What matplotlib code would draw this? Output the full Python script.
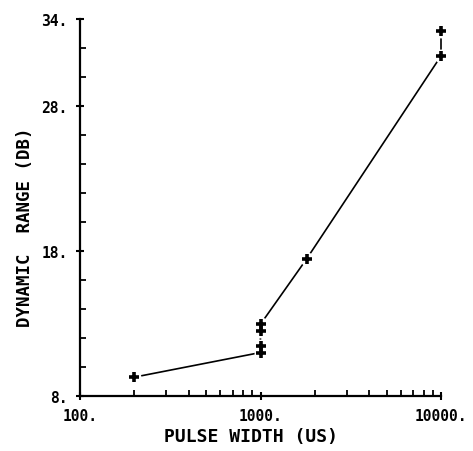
import matplotlib
matplotlib.use("Agg")
import matplotlib.pyplot as plt
from matplotlib.ticker import FixedLocator, LogLocator, MultipleLocator, NullFormatter

# Pulse width (us) vs dynamic range (dB)
pulse_width = [200, 1000, 1000, 1000, 1000, 1800, 10000, 10000]
dynamic_range = [9.3, 11.0, 11.45, 12.45, 12.95, 17.45, 31.45, 33.15]

x_ticks = [100, 1000, 10000]
x_tick_labels = ["100.", "1000.", "10000."]
y_ticks = [8, 18, 28, 34]
y_tick_labels = ["8.", "18.", "28.", "34."]

FONT = "DejaVu Sans Mono"

fig = plt.figure(figsize=(4.73, 4.52), dpi=100)
ax = fig.add_axes([80 / 473, 1 - 397 / 452, (441 - 80) / 473, (397 - 20) / 452])

ax.plot(pulse_width, dynamic_range, color="black", lw=1.2, zorder=1, clip_on=False)
ax.plot(pulse_width, dynamic_range, ls="none", marker="o", ms=10,
        mfc="white", mec="none", zorder=2, clip_on=False)
ax.plot(pulse_width, dynamic_range, ls="none", marker="+", ms=6.5,
        mew=2.6, color="black", zorder=3, clip_on=False)

ax.set_xscale("log")
ax.set_xlim(100, 10000)
ax.set_ylim(8, 34)

ax.set_xticks(x_ticks)
ax.set_xticklabels(x_tick_labels)
ax.xaxis.set_minor_locator(LogLocator(base=10, subs=range(2, 10)))
ax.xaxis.set_minor_formatter(NullFormatter())
ax.yaxis.set_major_locator(FixedLocator(y_ticks))
ax.set_yticklabels(y_tick_labels)
ax.yaxis.set_minor_locator(MultipleLocator(2))

for side in ("top", "right"):
    ax.spines[side].set_visible(False)
for side in ("left", "bottom"):
    ax.spines[side].set_linewidth(1.6)

ax.tick_params(which="major", direction="inout", length=6, width=1.5, pad=6,
               labelsize=10.5, colors="black")
ax.tick_params(which="minor", direction="in", length=4, width=1.3)
for lab in ax.get_xticklabels() + ax.get_yticklabels():
    lab.set_fontfamily(FONT)
    lab.set_fontweight("bold")

fig.text(251 / 473, 1 - 437 / 452, "PULSE WIDTH (US)", ha="center", va="center",
         fontfamily=FONT, fontweight="bold", fontsize=13)
fig.text(25 / 473, 1 - 227 / 452, "DYNAMIC  RANGE (DB)", ha="center", va="center",
         rotation=90, fontfamily=FONT, fontweight="bold", fontsize=12.5)

fig.savefig("out.png", dpi=100)
